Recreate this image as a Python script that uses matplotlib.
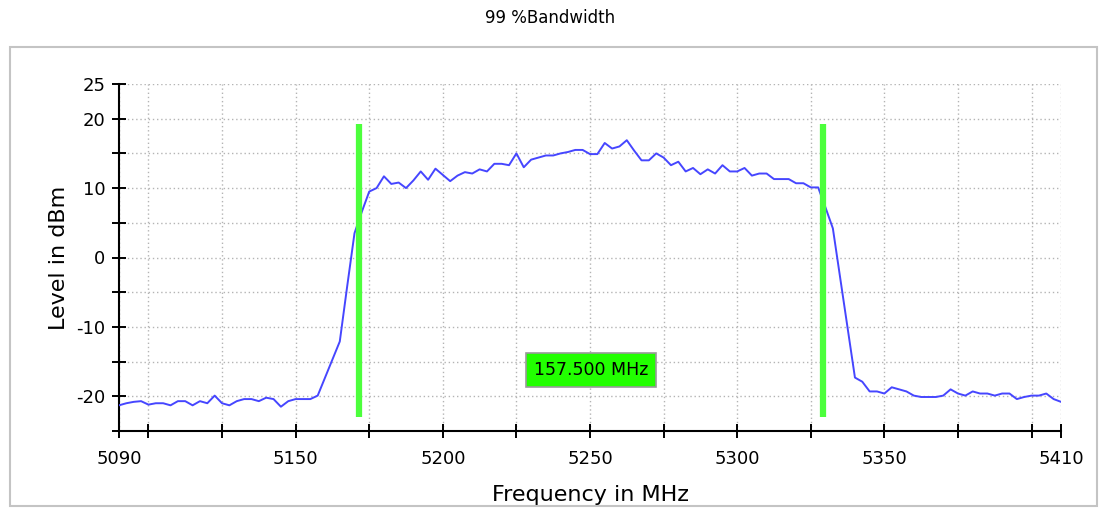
import numpy as np
import matplotlib.pyplot as plt
from matplotlib.patches import Rectangle

# sweep: 5090 .. 5410 MHz, 2.5 MHz steps
f_start = 5090.0
f_stop = 5410.0
f_step = 2.5

level_dbm = [
    -21.3, -21.0, -20.8, -20.7, -21.2, -21.0, -21.0, -21.3, -20.7, -20.7,
    -21.3, -20.7, -21.0, -19.9, -21.0, -21.3, -20.7, -20.4, -20.4, -20.7,
    -20.2, -20.4, -21.5, -20.7, -20.4, -20.4, -20.4, -19.9, -17.3, -14.7,
    -12.1, -4.2, 3.5, 6.6, 9.5, 10.0, 11.7, 10.6, 10.8, 10.0,
    11.1, 12.4, 11.2, 12.8, 11.9, 11.0, 11.8, 12.3, 12.1, 12.7,
    12.4, 13.5, 13.5, 13.3, 15.0, 13.0, 14.1, 14.4, 14.7, 14.7,
    15.0, 15.2, 15.5, 15.5, 14.9, 14.9, 16.5, 15.7, 16.0, 16.9,
    15.4, 14.0, 14.0, 15.0, 14.4, 13.3, 13.8, 12.4, 12.9, 12.0,
    12.7, 12.1, 13.3, 12.4, 12.4, 12.9, 11.8, 12.1, 12.1, 11.3,
    11.3, 11.3, 10.7, 10.7, 10.1, 10.1, 7.2, 4.2, -3.0, -10.2,
    -17.3, -17.9, -19.3, -19.3, -19.6, -18.7, -19.0, -19.3, -19.9, -20.1,
    -20.1, -20.1, -19.9, -19.0, -19.6, -19.9, -19.3, -19.6, -19.6, -19.9,
    -19.6, -19.6, -20.4, -20.1, -19.9, -19.9, -19.6, -20.4, -20.8,
]

# 99 % occupied bandwidth markers
f_lo = 5171.5
f_hi = 5329.0
marker_bottom = -23.0
marker_top = 19.2

x_ticks = [5090, 5100, 5125, 5150, 5175, 5200, 5225, 5250, 5275, 5300,
           5325, 5350, 5375, 5400, 5410]
x_labelled = [5090, 5150, 5200, 5250, 5300, 5350, 5410]
y_ticks = [-25, -20, -15, -10, -5, 0, 5, 10, 15, 20, 25]
y_labelled = [-20, -10, 0, 10, 20, 25]

freq = np.arange(f_start, f_stop + f_step / 2, f_step)

plt.rcParams['font.family'] = ['DejaVu Sans']

fig = plt.figure(figsize=(11, 5.08), dpi=100)
fig.patch.set_facecolor('white')

# panel frame around the plot area
frame = Rectangle((10 / 1100, 2 / 508), 1087 / 1100, 459 / 508,
                  transform=fig.transFigure, fill=False,
                  edgecolor='#c4c4c4', lw=1.5)
fig.patches.append(frame)

fig.text(0.5, 1 - 18 / 508, '99 %Bandwidth', ha='center', va='center',
         fontsize=12)

ax = fig.add_axes([119 / 1100, 77 / 508, 942 / 1100, 347 / 508])

ax.plot(freq, level_dbm, color='#4646ff', lw=1.4, zorder=3)

ax.vlines([f_lo, f_hi], marker_bottom, marker_top, color='#4cff3c',
          lw=4.5, zorder=4)

ax.text((f_lo + f_hi) / 2, -16.2, f'{f_hi - f_lo:.3f} MHz',
        ha='center', va='center', fontsize=12.5, zorder=5,
        bbox=dict(boxstyle='square,pad=0.45', facecolor='#22ff00',
                  edgecolor='#9a9a9a', lw=1.2))

ax.set_xlim(f_start, f_stop)
ax.set_ylim(-25, 25)

ax.set_xticks(x_ticks)
ax.set_xticklabels([str(t) if t in x_labelled else '' for t in x_ticks])
ax.set_yticks(y_ticks)
ax.set_yticklabels([str(t) if t in y_labelled else '' for t in y_ticks])

ax.grid(True, color='#b4b4b4', lw=1.0, linestyle=(0, (1, 2)))
ax.set_axisbelow(True)

for side in ['top', 'right']:
    ax.spines[side].set_visible(False)
for side in ['left', 'bottom']:
    ax.spines[side].set_linewidth(1.5)
    ax.spines[side].set_color('black')

ax.tick_params(axis='both', direction='inout', length=9.5, width=1.4,
               colors='black', labelsize=13)
ax.tick_params(axis='x', pad=9)
ax.tick_params(axis='y', pad=5)

ax.set_xlabel('Frequency in MHz', fontsize=16, labelpad=12)
ax.set_ylabel('Level in dBm', fontsize=16, labelpad=5)

fig.savefig('out.png', dpi=100)
